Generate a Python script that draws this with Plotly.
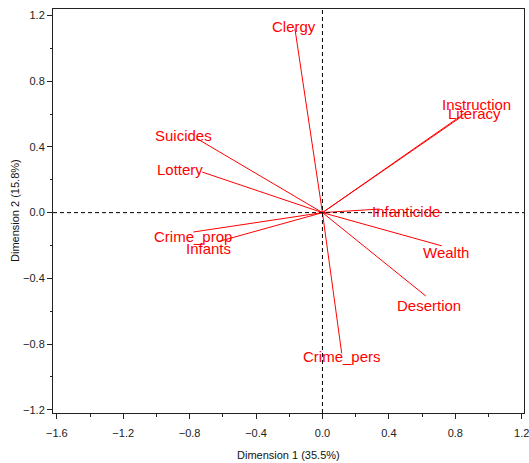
import plotly.graph_objects as go

# Variable loadings on the first two principal dimensions
variables = ["Clergy", "Instruction", "Literacy", "Suicides", "Lottery",
             "Infanticide", "Crime_prop", "Infants", "Wealth", "Desertion",
             "Crime_pers"]
dim1 = [-0.166, 0.858, 0.834, -0.758, -0.724, 0.345, -0.778, -0.630, 0.718, 0.623, 0.116]
dim2 = [1.122, 0.606, 0.582, 0.452, 0.247, 0.022, -0.118, -0.177, -0.202, -0.508, -0.857]

x_ticks = [-1.6, -1.2, -0.8, -0.4, 0.0, 0.4, 0.8, 1.2]
y_ticks = [-1.2, -0.8, -0.4, 0.0, 0.4, 0.8, 1.2]
x_title = "Dimension 1 (35.5%)"
y_title = "Dimension 2 (15.8%)"

# pixel nudges for the variable names, relative to each arrow tip
label_shift = {
    "Clergy": (-1, 2), "Instruction": (12, 9), "Literacy": (14, 4),
    "Suicides": (-13, 3), "Lottery": (-22, 3), "Infanticide": (26, -2),
    "Crime_prop": (0, -4), "Infants": (-9, -7), "Wealth": (4, -7),
    "Desertion": (3, -9), "Crime_pers": (0, -3),
}

RED = "#FF0000"
FONT = "Liberation Sans, Arial, sans-serif"

fig = go.Figure()

xs, ys = [], []
for vx, vy in zip(dim1, dim2):
    xs += [0, vx, None]
    ys += [0, vy, None]
fig.add_trace(go.Scatter(x=xs, y=ys, mode="lines",
                         line=dict(color=RED, width=1), hoverinfo="skip",
                         showlegend=False))

for name, vx, vy in zip(variables, dim1, dim2):
    dx, dy = label_shift[name]
    fig.add_annotation(x=vx, y=vy, text=name, showarrow=False,
                       xshift=dx, yshift=dy, xanchor="center", yanchor="middle",
                       font=dict(family=FONT, size=15, color=RED))

# dashed reference axes through the origin
fig.add_shape(type="line", xref="paper", yref="y", x0=0, x1=1, y0=0, y1=0,
              line=dict(color="black", width=1, dash="4px,3px"))
fig.add_shape(type="line", xref="x", yref="paper", x0=0, x1=0, y0=0, y1=1,
              line=dict(color="black", width=1, dash="4px,3px"))

axis_common = dict(
    showgrid=False, zeroline=False, showline=True, linecolor="#222",
    linewidth=1, mirror=True, ticks="outside", ticklen=5, tickcolor="#222",
    tickfont=dict(family=FONT, size=11, color="#222"), tickformat=".1f",
    ticklabeloverflow="allow", automargin=False,
)

fig.update_xaxes(range=[-1.623, 1.214], tickvals=x_ticks,
                 ticklabelstandoff=5,
                 minor=dict(tickvals=[v / 10 for v in range(-16, 13, 2)],
                            ticks="outside", ticklen=3, tickcolor="#222"),
                 **axis_common)
fig.update_yaxes(range=[-1.22, 1.24], tickvals=y_ticks,
                 minor=dict(tickvals=[v / 10 for v in range(-12, 13, 2)],
                            ticks="outside", ticklen=2, tickcolor="#222"),
                 **axis_common)

fig.add_annotation(text=x_title, xref="paper", yref="paper", x=0.5, y=0,
                   yshift=-42, showarrow=False, yanchor="middle",
                   font=dict(family=FONT, size=11, color="#111"))
fig.add_annotation(text=y_title, xref="paper", yref="paper", x=0, y=0.5,
                   xshift=-38, showarrow=False, textangle=-90,
                   xanchor="center", yanchor="middle",
                   font=dict(family=FONT, size=11, color="#111"))

fig.update_layout(
    width=529, height=463,
    margin=dict(l=53, r=5, t=9, b=50, autoexpand=False),
    plot_bgcolor="white", paper_bgcolor="white",
)

fig.write_html("out.html")
